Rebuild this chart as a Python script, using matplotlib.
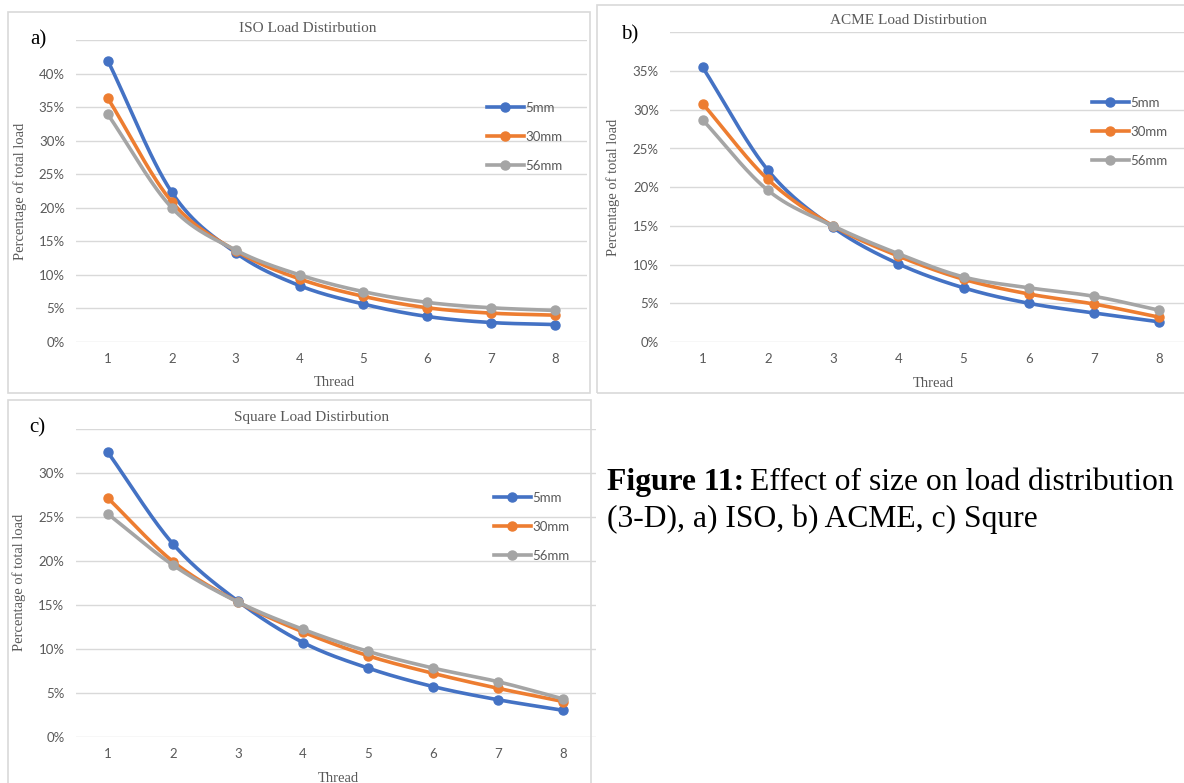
import numpy as np
import matplotlib
matplotlib.use("Agg")
import matplotlib.pyplot as plt
from matplotlib.patches import Rectangle

W, H = 1184, 783

threads = [1, 2, 3, 4, 5, 6, 7, 8]
sizes = ["5mm", "30mm", "56mm"]
colors = ["#4472C4", "#ED7D31", "#A5A5A5"]

# percentage of total load per thread
iso_5mm = [41.9, 22.3, 13.3, 8.4, 5.65, 3.8, 2.9, 2.6]
iso_30mm = [36.3, 20.9, 13.6, 9.4, 6.8, 5.1, 4.3, 4.0]
iso_56mm = [33.9, 20.0, 13.7, 10.0, 7.5, 5.9, 5.1, 4.7]

acme_5mm = [35.5, 22.2, 14.8, 10.1, 7.0, 5.0, 3.75, 2.6]
acme_30mm = [30.8, 21.0, 15.0, 11.1, 8.1, 6.2, 4.9, 3.2]
acme_56mm = [28.7, 19.6, 15.0, 11.4, 8.4, 7.0, 5.9, 4.1]

sq_5mm = [32.3, 21.9, 15.4, 10.7, 7.8, 5.7, 4.2, 3.0]
sq_30mm = [27.1, 19.9, 15.3, 11.9, 9.2, 7.2, 5.5, 4.0]
sq_56mm = [25.3, 19.5, 15.3, 12.2, 9.7, 7.8, 6.25, 4.3]

GRAY_TXT = "#595959"
SERIF = "Liberation Serif"
SANS = "Lato"


def smooth(x, y, n=30):
    # Catmull-Rom style smoothing, like Excel's "smoothed line"
    x = np.asarray(x, float)
    y = np.asarray(y, float)
    px = np.concatenate([[2 * x[0] - x[1]], x, [2 * x[-1] - x[-2]]])
    py = np.concatenate([[2 * y[0] - y[1]], y, [2 * y[-1] - y[-2]]])
    xs, ys = [], []
    t = np.linspace(0, 1, n, endpoint=False)
    for i in range(1, len(px) - 2):
        for p, out in ((px, xs), (py, ys)):
            p0, p1, p2, p3 = p[i - 1], p[i], p[i + 1], p[i + 2]
            out.extend(0.5 * ((2 * p1) + (-p0 + p2) * t
                              + (2 * p0 - 5 * p1 + 4 * p2 - p3) * t ** 2
                              + (-p0 + 3 * p1 - 3 * p2 + p3) * t ** 3))
    xs.append(x[-1])
    ys.append(y[-1])
    return np.array(xs), np.array(ys)


def box(px_left, px_top, px_w, px_h):
    return [px_left / W, 1 - (px_top + px_h) / H, px_w / W, px_h / H]


fig = plt.figure(figsize=(W / 100, H / 100), dpi=100)
fig.patch.set_facecolor("white")

panels = [
    # series, axes box (left, top, width, height px), ymax, title, title pos, letter, letter pos, border, legend pos
    ([iso_5mm, iso_30mm, iso_56mm], (76, 40, 511, 302), 45, "ISO Load Distirbution",
     (308, 29), "a)", (30, 40), (8, 12, 582, 381), (480, 95)),
    ([acme_5mm, acme_30mm, acme_56mm], (670, 32.4, 522, 309.6), 40, "ACME Load Distirbution",
     (908, 21), "b)", (621, 35), (597, 5, 600, 388), (1085, 90)),
    ([sq_5mm, sq_30mm, sq_56mm], (75.5, 428.7, 520, 308), 35, "Square Load Distirbution",
     (312, 418), "c)", (29, 428), (8, 400, 583, 400), (487, 485)),
]

for series, ab, ymax, title, tpos, letter, lpos, border, legpos in panels:
    fig.add_artist(Rectangle((border[0] / W, 1 - (border[1] + border[3]) / H),
                             border[2] / W, border[3] / H, transform=fig.transFigure,
                             fill=False, edgecolor="#D9D9D9", linewidth=1.2))
    ax = fig.add_axes(box(*ab))
    ax.set_facecolor("none")
    for vals, lab, c in zip(series, sizes, colors):
        sx, sy = smooth(threads, vals)
        ax.plot(sx, sy, color=c, linewidth=2.6, solid_capstyle="round")
        ax.plot(threads, vals, "o", color=c, markersize=6.5)
        ax.plot([], [], "-o", color=c, linewidth=2.6, markersize=6.5, label=lab)
    ax.set_xlim(0.5, 8.5)
    ax.set_ylim(0, ymax)
    ax.set_xticks(threads)
    yt = np.arange(0, ymax + 1, 5)
    ax.set_yticks(yt)
    ax.set_yticklabels([f"{v}%" for v in yt[:-1]] + [""])
    ax.grid(axis="y", color="#D9D9D9", linewidth=1.0)
    ax.set_axisbelow(True)
    for s in ax.spines.values():
        s.set_visible(False)
    ax.tick_params(length=0, labelsize=9.5, labelcolor=GRAY_TXT, pad=8)
    for t in ax.get_xticklabels() + ax.get_yticklabels():
        t.set_fontfamily(SANS)
    ax.set_xlabel("Thread", fontfamily=SERIF, fontsize=10.5, color=GRAY_TXT)
    ax.xaxis.set_label_coords(0.505, -0.113)
    ax.set_ylabel("Percentage of total load", fontfamily=SERIF, fontsize=10.5, color=GRAY_TXT)
    ax.yaxis.set_label_coords(-0.095, 0.5)

    fig.text(tpos[0] / W, 1 - tpos[1] / H, title, fontfamily=SERIF, fontsize=11,
             color=GRAY_TXT, ha="center", va="center")
    fig.text(lpos[0] / W, 1 - lpos[1] / H, letter, fontfamily=SERIF, fontsize=15,
             color="black", ha="left", va="center")

    leg = ax.legend(loc="upper left", bbox_to_anchor=(legpos[0] / W, 1 - legpos[1] / H),
                    bbox_transform=fig.transFigure, frameon=False, handlelength=2.8,
                    handletextpad=0.15, labelspacing=1.3, borderpad=0,
                    prop={"family": SANS, "size": 9.5})
    for t in leg.get_texts():
        t.set_color(GRAY_TXT)

cap1 = fig.text(607 / W, 1 - 482 / H, "Figure 11:", fontfamily=SERIF, fontsize=22.8,
                fontweight="bold", ha="left", va="center")
fig.canvas.draw()
bb = cap1.get_window_extent()
fig.text((bb.x1 + 6) / W, 1 - 482 / H, "Effect of size on load distribution",
         fontfamily=SERIF, fontsize=22.8, ha="left", va="center")
fig.text(607 / W, 1 - 519 / H, "(3-D), a) ISO, b) ACME, c) Squre",
         fontfamily=SERIF, fontsize=22.8, ha="left", va="center")

fig.savefig("out.png", dpi=100)
